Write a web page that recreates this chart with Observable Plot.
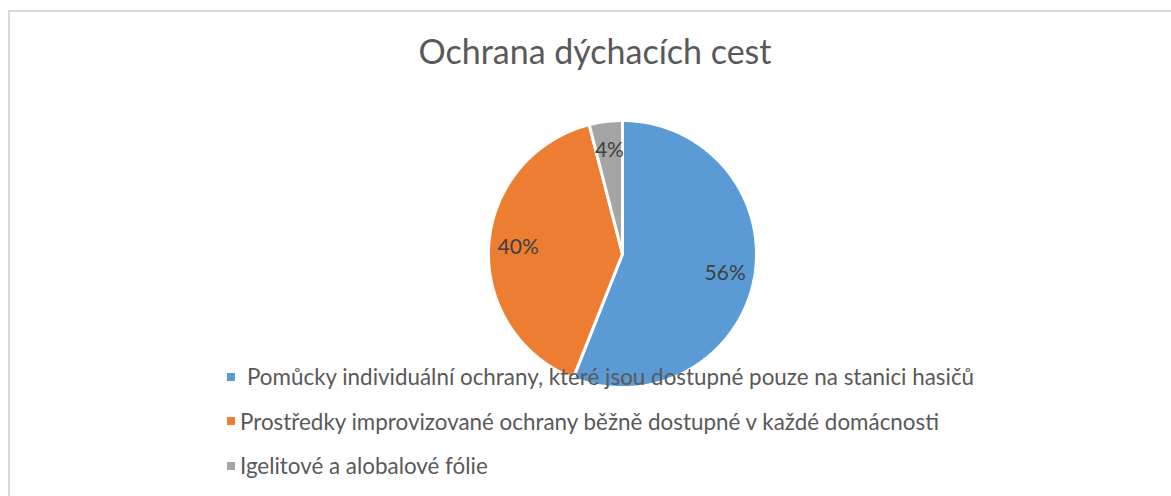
<!DOCTYPE html>
<html><head><meta charset="utf-8">
<script src="https://cdn.jsdelivr.net/npm/d3@7"></script>
<script src="https://cdn.jsdelivr.net/npm/@observablehq/plot@0.6"></script>
<style>
body{margin:0;background:#fff;}
#wrap{position:relative;width:1171px;height:496px;overflow:hidden;font-family:Lato,"Open Sans",sans-serif;}
#frame{position:absolute;left:8px;top:10px;width:1300px;height:700px;border:2px solid #d9d9d9;box-sizing:border-box;}
#chart{position:absolute;left:0;top:0;}
#title{position:absolute;left:0;top:30px;width:1190px;text-align:center;font-size:34px;color:#595959;white-space:nowrap;}
.leg{position:absolute;left:227px;font-size:22.4px;color:#595959;white-space:nowrap;display:flex;align-items:center;line-height:27px;}
.sw{display:inline-block;width:8px;height:8px;margin-right:5px;}
</style></head>
<body>
<div id="wrap">
  <div id="frame"></div>
  <div id="chart"></div>
  <div id="title"></div>
  <div id="legend"></div>
</div>
<script>
const title = "Ochrana dýchacích cest";
const categories = [
  "Pomůcky individuální ochrany, které jsou dostupné pouze na stanici hasičů",
  "Prostředky improvizované ochrany běžně dostupné v každé domácnosti",
  "Igelitové a alobalové fólie"
];
const values = [56, 40, 4];
const colors = ["#5B9BD5", "#ED7D31", "#A5A5A5"];

const arcs = d3.pie().sort(null).value(d => d)(values);
const pts = [];
arcs.forEach((a, i) => {
  pts.push({k: categories[i], x: 0, y: 0});
  const n = Math.max(4, Math.ceil((a.endAngle - a.startAngle) * 60));
  for (let j = 0; j <= n; j++) {
    const t = a.startAngle + (a.endAngle - a.startAngle) * j / n;
    pts.push({k: categories[i], x: Math.sin(t), y: Math.cos(t)});
  }
  pts.push({k: categories[i], x: 0, y: 0});
});
const labels = arcs.map((a, i) => {
  const m = (a.startAngle + a.endAngle) / 2;
  return {x: 0.78 * Math.sin(m), y: 0.78 * Math.cos(m), t: values[i] + "%"};
});

const chart = Plot.plot({
  width: 1171, height: 496,
  marginLeft: 488, marginRight: 415, marginTop: 120, marginBottom: 109,
  x: {domain: [-1, 1], axis: null},
  y: {domain: [-1, 1], axis: null},
  color: {domain: categories, range: colors},
  style: {background: "transparent", fontFamily: "Lato, sans-serif"},
  marks: [
    Plot.line(pts, {x: "x", y: "y", z: "k", fill: "k", stroke: "white", strokeWidth: 3, strokeLinejoin: "miter"}),
    Plot.text(labels, {x: "x", y: "y", text: "t", fontSize: 21, fill: "#404040"})
  ]
});
document.getElementById("chart").append(chart);
document.getElementById("title").textContent = title;

const legTops = [363, 407.5, 452];
const legend = document.getElementById("legend");
categories.forEach((c, i) => {
  const d = document.createElement("div");
  d.className = "leg";
  d.style.top = legTops[i] + "px";
  const s = document.createElement("span");
  s.className = "sw";
  s.style.background = colors[i];
  if (i === 0) s.style.marginRight = "12px";
  d.append(s, document.createTextNode(c));
  legend.append(d);
});
</script>
</body></html>
